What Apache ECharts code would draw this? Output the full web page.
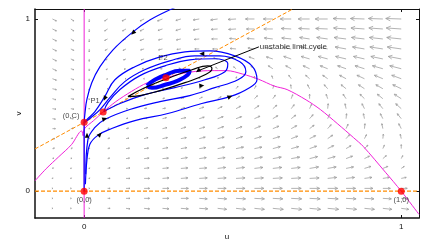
<!DOCTYPE html>
<html><head><meta charset="utf-8">
<script src="https://cdn.jsdelivr.net/npm/echarts/dist/echarts.min.js"></script>
<style>html,body{margin:0;padding:0;background:#fff}#c{width:438px;height:246px}</style>
</head><body><div id="c"></div><script>
// ---- data ----
const gridU = [-0.1,-0.042,0.016,0.074,0.132,0.189,0.247,0.305,0.363,0.421,0.479,0.537,0.595,0.653,0.711,0.768,0.826,0.884,0.942,1.0];
const gridV = [1.0,0.942,0.884,0.826,0.768,0.711,0.653,0.595,0.537,0.479,0.421,0.363,0.305,0.247,0.189,0.132,0.074,0.016,-0.042,-0.1];
// field components per row (du in 1/317, dv in 1/173 data units), columns follow gridU
const field = [
[[4,-2],[3,-2],[0,-3],[-3,-2],[-4,-2],[-4,-2],[-5,-2],[-5,-1.5],[-6,-1],[-7,-1],[-8,-0.5],[-9,0],[-9.5,0],[-11,0],[-11.5,0],[-12.5,0],[-13,0.5],[-14,0.5],[-14.5,0.5],[-15.5,0.5]],
[[4,-2],[3,-2],[0,-3],[-3,-2],[-3.5,-2],[-4,-2],[-4.5,-1.5],[-5,-1.5],[-6,-1],[-6.5,-0.5],[-7.5,-0.5],[-8,0],[-9,0],[-10,0.5],[-11,0.5],[-12,0.5],[-12.5,1],[-13.5,1],[-14,1],[-15,1]],
[[4,-2],[3,-2],[0,-3],[-3,-1.5],[-3.5,-1.5],[-4,-1.5],[-4,-1],[-4.5,-1],[-5,-0.5],[-6,0],[-6.5,0.5],[-7.5,0.5],[-8.5,1],[-9.5,1],[-10,1.5],[-11,1.5],[-12,1.5],[-13,1.5],[-13.5,1.5],[-14.5,1.5]],
[[4,-2],[3,-1.5],[0,-3],[-2.5,-1.5],[-3,-1.5],[-3.5,-1],[-4,-1],[-4,-0.5],[-4.5,0],[-5,0],[-6,0.5],[-6.5,1],[-7.5,1.5],[-8.5,1.5],[-9.5,2],[-10.5,2],[-11,2],[-12,2],[-13,2],[-14,2]],
[[4,-2],[3,-1.5],[0,-2.5],[-2,-1],[-2.5,-1],[-3,-1],[-3.5,-0.5],[-3.5,0],[-4,0.5],[-4,1],[-4.5,1.5],[-5.5,2],[-6.5,2],[-7.5,2.5],[-8.5,2.5],[-9.5,2.5],[-10.5,2.5],[-11,2.5],[-12,2.5],[-13,2.5]],
[[4,-2],[3,-1],[0,-2],[-1.5,-1],[-2,-0.5],[-2,0],[-2,0],[-2,0.5],[-2,1],[-2,1.5],[-2.5,2],[-3.5,2.5],[-4.5,3],[-5.5,3],[-6.5,3],[-7.5,3],[-8.5,3],[-9.5,3],[-10.5,3],[-11.5,3]],
[[4,-1.5],[3,-1],[0,-2],[-1,-0.5],[-1,0],[-0.5,0],[0,0],[0.5,0.5],[0.5,1],[0.5,1.5],[0.5,2],[0,2.5],[-1,3],[-2.5,3.5],[-4,3.5],[-5,3.5],[-6.5,3.5],[-7.5,3.5],[-8.5,3.5],[-9.5,3.5]],
[[4,-1],[3,-1],[0,-1.5],[-0.5,0],[0,0],[0.5,0],[1,0.5],[1.5,1],[2,1.5],[2,2],[2,2.5],[1.5,3],[1,3.5],[-0.5,4],[-2,4],[-3.5,4],[-5,4],[-6,4],[-7,4],[-8.5,4]],
[[3.5,-1],[3,-0.5],[0,-1],[0,0],[0.5,0],[1.5,0.5],[2,0.5],[3,1],[3,1.5],[3.5,2],[3.5,2.5],[3,3],[2.5,3.5],[1.5,4],[0,4.5],[-1.5,4.5],[-3,4.5],[-4.5,4.5],[-5.5,4.5],[-7,4.5]],
[[3.5,-0.5],[3,-0.5],[0,-0.5],[0.5,0],[1.5,0],[2.5,0.5],[3,0.5],[4,1],[4.5,1.5],[4.5,2],[4.5,2.5],[4.5,3],[4,3.5],[3,4],[2,4.5],[0.5,5],[-1,5],[-2.5,5],[-4,5],[-5.5,5]],
[[3,-0.5],[2.5,0],[0.5,0],[1,0.5],[2,0.5],[3,0.5],[4,1],[5,1],[5,1.5],[5.5,2],[5.5,2],[5.5,2.5],[5,3],[4.5,3.5],[3.5,4],[2,4.5],[0.5,5],[-1,5],[-2.5,5],[-4,5]],
[[3,0],[2.5,0.5],[0.5,0.5],[1.5,0.5],[2.5,0.5],[3.5,1],[4.5,1],[5,1.5],[5.5,1.5],[6,2],[6,2],[6,2.5],[6,2.5],[5.5,3],[4.5,3.5],[3.5,4],[2,4.5],[0.5,5],[-1,5],[-2.5,5]],
[[2.5,0],[2,0.5],[0.5,0.5],[2,0.5],[3,0.5],[4,1],[5,1],[5.5,1],[6,1.5],[6.5,1.5],[6.5,2],[7,2],[7,2],[6.5,2.5],[6,3],[5,3.5],[3.5,4],[2,4],[0.5,4.5],[-1,4.5]],
[[2,0.5],[1.5,0.5],[0.5,0.5],[2,0.5],[3.5,0.5],[4.5,0.5],[5.5,1],[6,1],[6.5,1],[7,1.5],[7.5,1.5],[7.5,1.5],[7.5,2],[7.5,2],[7,2.5],[6,3],[5,3],[3.5,3.5],[1.5,3.5],[0,4]],
[[1.5,0.5],[1,0.5],[0.5,0.5],[2,0.5],[3.5,0.5],[5,0.5],[6,0.5],[6.5,1],[7,1],[7.5,1],[8,1],[8,1.5],[8.5,1.5],[8.5,1.5],[8,2],[7.5,2],[6.5,2.5],[5,2.5],[3.5,3],[1.5,3]],
[[1,0.5],[0.5,0.5],[0.5,0.5],[2.5,0.5],[4,0.5],[5,0.5],[6,0.5],[7,0.5],[7.5,0.5],[8,1],[8.5,1],[8.5,1],[9,1],[9,1],[9,1.5],[8.5,1.5],[7.5,1.5],[6.5,2],[5,2],[3,2]],
[[0.5,0.5],[0.5,0.5],[0.5,0.5],[2.5,0],[4,0],[5.5,0],[6.5,0.5],[7,0.5],[8,0.5],[8.5,0.5],[9,0.5],[9,0.5],[9.5,0.5],[9.5,0.5],[9.5,0.5],[9,1],[8.5,1],[7.5,1],[6.5,1],[5,1]],
[[0.5,0],[0.5,0],[0.5,0],[2.5,0],[4,0],[5.5,0],[6.5,0],[7.5,0],[8,0],[8.5,0],[9,0],[9.5,0],[9.5,0],[10,0],[10,0],[10,0],[9.5,0],[8.5,0],[7.5,0],[6,0]],
[[0.5,0],[0.5,0],[0.5,0],[2.5,0],[4,0],[5.5,0],[6.5,0],[7.5,0],[8,-0.5],[9,-0.5],[9.5,-0.5],[10,-0.5],[10,-0.5],[10.5,-0.5],[10.5,-0.5],[10.5,-0.5],[10,-0.5],[9.5,-0.5],[8.5,-0.5],[7,-0.5]],
[[0.5,0],[0.5,0],[0.5,0],[2.5,0],[4,-0.5],[5.5,-0.5],[6.5,-0.5],[7.5,-0.5],[8.5,-0.5],[9,-1],[9.5,-1],[10,-1],[10.5,-1],[10.5,-1],[11,-1],[11,-1],[10.5,-1],[10,-1],[9,-1],[7.5,-1]]
];
// nullclines
const uNullU = [-0.155,-0.12,-0.08,-0.04,-0.008,-0.003,0.0,0.03,0.06,0.1,0.15,0.2,0.258,0.3,0.35,0.4,0.45,0.5,0.55,0.6,0.64,0.7,0.745,0.8,0.85,0.88,0.95,1.0,1.056];
const uNullV = [0.06,0.13,0.2,0.27,0.35,0.32,0.36,0.41,0.46,0.52,0.58,0.63,0.658,0.68,0.695,0.70,0.70,0.68,0.65,0.61,0.59,0.53,0.474,0.39,0.31,0.26,0.11,0.0,-0.135];
const vNullDiagU = [-0.155, 0.658];
const vNullDiagV = [0.245, 1.058];
// equilibria
const eqU = [0, 1, 0, 0.06, 0.258];
const eqV = [0, 0, 0.4, 0.46, 0.658];
const eqNames = ['(0,0)','(1,0)','(0,C)','P1','P2'];
// trajectories
const trajU = [
 [0.33,0.276,0.207,0.154,0.091,0.05,0.024,0.0085,0.003,0],
 [0,0,0],
 [0.004,0.009,0.018,0.043,0.087,0.160,0.264,0.371,0.460,0.516,0.545,0.529,0.475,0.397,0.318,0.239,0.160,0.097,0.065,0.034,0.009,0.002],
 [0.005,0.012,0.034,0.065,0.144,0.239,0.333,0.412,0.485,0.510,0.491,0.428,0.349,0.270,0.191,0.128,0.081,0.050,0.018,0.002],
 [0.062,0.113,0.191,0.286,0.381,0.444,0.453,0.412,0.333,0.255,0.176,0.113,0.075,0.062]
];
const trajV = [
 [1.1,1.058,0.994,0.925,0.821,0.723,0.63,0.532,0.46,0.4],
 [0,0.2,0.4],
 [0.040,0.185,0.272,0.324,0.364,0.410,0.451,0.509,0.549,0.595,0.647,0.728,0.786,0.815,0.809,0.780,0.723,0.647,0.549,0.462,0.416,0.399],
 [0.098,0.301,0.370,0.416,0.474,0.520,0.555,0.601,0.647,0.694,0.751,0.786,0.786,0.757,0.705,0.636,0.543,0.474,0.422,0.40],
 [0.462,0.509,0.561,0.601,0.647,0.694,0.740,0.769,0.763,0.728,0.671,0.590,0.514,0.462]
];
// dense inner spiral around P2
const spiralU = [0.198,0.223,0.258,0.302,0.333,0.327,0.296,0.255,0.214,0.198];
const spiralV = [0.613,0.647,0.676,0.699,0.699,0.676,0.642,0.618,0.601,0.613];
const cycleU = [0.138,0.191,0.270,0.340,0.390,0.403,0.381,0.318,0.239,0.176,0.138];
const cycleV = [0.549,0.601,0.659,0.705,0.728,0.711,0.676,0.630,0.584,0.555,0.549];
// trajectory direction marks [u, v, du, dv]
const arrowMarks = [[0.154,0.919,-0.05,-0.09],[0.065,0.538,-0.02,-0.08],[0.009,0.324,0,1],[0.05,0.33,0.3,0.6],[0.065,0.42,1,0.6],[0.371,0.613,1,0.1],[0.371,0.798,-1,0],[0.46,0.549,1,0.8]];
const annot = {text:'unstable limit cycle', fromU:0.551, fromV:0.838, toU:0.359, toV:0.699};
// ---- chart ----
const chart = echarts.init(document.getElementById('c'), null, {renderer:'canvas'});
const XMIN=-0.155, XMAX=1.056, YMIN=-0.156, YMAX=1.058;
const fieldData=[];
field.forEach((row,i)=>row.forEach((c,j)=>fieldData.push([gridU[j],gridV[i],c[0]/317,c[1]/173])));
function zip(a,b){return a.map((x,i)=>[x,b[i]]);}
const font = 'Liberation Sans, Arial, sans-serif';
function quiverItem(params, api){
  const u=api.value(0), v=api.value(1), du=api.value(2), dv=api.value(3);
  const p0=api.coord([u,v]), p1=api.coord([u+du,v+dv]);
  const dx=p1[0]-p0[0], dy=p1[1]-p0[1]; const L=Math.hypot(dx,dy);
  if(L<0.4) return null;
  const ux=dx/L, uy=dy/L; const h=Math.max(1.2,0.33*L); const a=0.45;
  const c=Math.cos(a), s=Math.sin(a);
  const h1=[p1[0]-h*(ux*c-uy*s), p1[1]-h*(uy*c+ux*s)];
  const h2=[p1[0]-h*(ux*c+uy*s), p1[1]-h*(uy*c-ux*s)];
  const st={stroke:'#a0a0a0', lineWidth:0.8, fill:null};
  return {type:'group', children:[
    {type:'polyline', shape:{points:[p0,p1]}, style:st},
    {type:'polyline', shape:{points:[h1,p1,h2]}, style:st}]};
}
function headItem(params, api){
  const u=api.value(0), v=api.value(1);
  const p0=api.coord([u,v]); const q=api.coord([u+api.value(2)*0.01, v+api.value(3)*0.01]);
  let dx=q[0]-p0[0], dy=q[1]-p0[1]; const L=Math.hypot(dx,dy)||1; dx/=L; dy/=L;
  const h=5, w=2.2;
  const tip=[p0[0]+dx*h/2, p0[1]+dy*h/2];
  const b=[p0[0]-dx*h/2, p0[1]-dy*h/2];
  return {type:'polygon', shape:{points:[tip,[b[0]-dy*w,b[1]+dx*w],[b[0]+dy*w,b[1]-dx*w]]}, style:{fill:'#000'}};
}
const series=[];
series.push({type:'custom', renderItem:quiverItem, data:fieldData, silent:true, z:1});
series.push({type:'line', data:[[0,YMIN],[0,YMAX]], showSymbol:false, lineStyle:{color:'#f020d8',width:1}, z:2});
series.push({type:'line', data:zip(uNullU,uNullV), showSymbol:false, smooth:0.3, lineStyle:{color:'#f020d8',width:1}, z:2});
series.push({type:'line', data:[[XMIN,0],[XMAX,0]], showSymbol:false, lineStyle:{color:'#ff8c00',width:1.2,type:[4,2]}, z:2});
series.push({type:'line', data:zip(vNullDiagU,vNullDiagV), showSymbol:false, lineStyle:{color:'#ff8c00',width:1,type:[4,2]}, z:2});
trajU.forEach((tu,i)=>series.push({type:'line', data:zip(tu,trajV[i]), showSymbol:false, smooth:0.4, lineStyle:{color:'#0000ff',width:1.2}, z:3}));
series.push({type:'line', data:zip(spiralU,spiralV), showSymbol:false, smooth:0.5, lineStyle:{color:'#0000ff',width:4}, z:3});
series.push({type:'line', data:zip(cycleU,cycleV), showSymbol:false, smooth:0.5, lineStyle:{color:'#000',width:1.2}, z:4});
series.push({type:'line', data:[[annot.fromU,annot.fromV],[annot.toU,annot.toV]], showSymbol:false, lineStyle:{color:'#000',width:1}, z:4});
series.push({type:'custom', renderItem:headItem, data:arrowMarks.concat([[annot.toU,annot.toV,-(annot.fromU-annot.toU)*0.547,-(annot.fromV-annot.toV)]]), z:5});
series.push({type:'scatter', data:[{value:[annot.fromU,annot.fromV]}], symbolSize:0, z:6,
  label:{show:true, position:'right', distance:1, formatter:annot.text, fontFamily:font, fontSize:8, color:'#000'}});
const labOff=[[0,9],[0,9],[-13,-6],[-8,-11],[-3,-20]];
series.push({type:'scatter', data:zip(eqU,eqV).map((p,i)=>({value:p,name:eqNames[i],label:{offset:labOff[i]}})), symbolSize:7, itemStyle:{color:'#ff0000'}, z:6,
  label:{show:true, position:'inside', fontFamily:font, fontSize:7.5, color:'#111', formatter:p=>p.name}});
const tickCommon={inside:true,length:3,customValues:[0,1],lineStyle:{color:'#111'}};
chart.setOption({
  animation:false,
  grid:{left:35, top:9, width:384, height:210},
  xAxis:[{type:'value', min:XMIN, max:XMAX, name:'u', nameLocation:'middle', nameGap:15, nameMoveOverlap:false,
     nameTextStyle:{fontFamily:font,fontSize:8,color:'#111'},
     axisLine:{onZero:false, lineStyle:{color:'#111',width:1.5}}, axisTick:tickCommon,
     axisLabel:{customValues:[0,1], fontFamily:font, fontSize:8, color:'#111', margin:5, formatter:v=>String(Math.round(v))}, splitLine:{show:false}},
   {type:'value', position:'top', min:XMIN, max:XMAX, axisLine:{onZero:false,lineStyle:{color:'#111'}}, axisTick:tickCommon, axisLabel:{show:false}, splitLine:{show:false}}],
  yAxis:[{type:'value', min:YMIN, max:YMAX, name:'v', nameLocation:'middle', nameGap:12, nameMoveOverlap:false,
     nameTextStyle:{fontFamily:font,fontSize:8,color:'#111'},
     axisLine:{onZero:false, lineStyle:{color:'#111',width:1.5}}, axisTick:tickCommon,
     axisLabel:{customValues:[0,1], fontFamily:font, fontSize:8, color:'#111', margin:5, formatter:v=>String(Math.round(v))}, splitLine:{show:false}},
   {type:'value', position:'right', min:YMIN, max:YMAX, axisLine:{onZero:false,lineStyle:{color:'#111'}}, axisTick:tickCommon, axisLabel:{show:false}, splitLine:{show:false}}],
  series:series
});
</script></body></html>
